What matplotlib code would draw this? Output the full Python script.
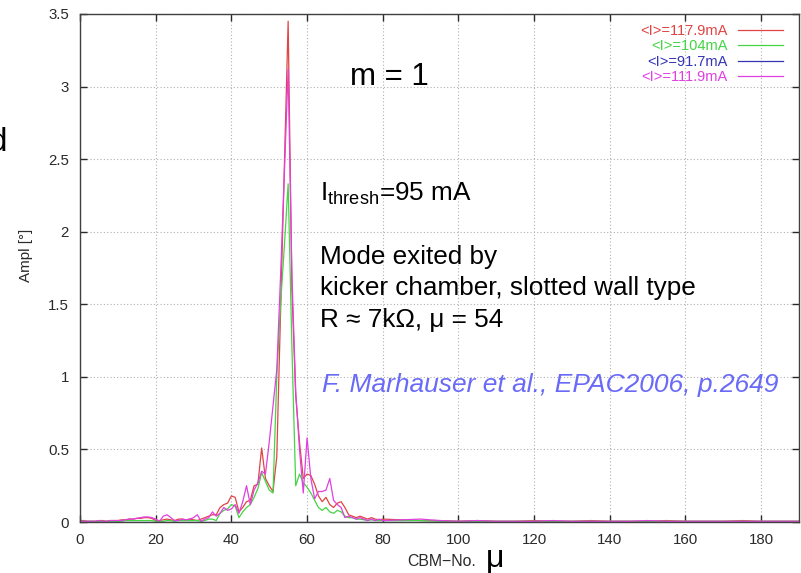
import matplotlib
matplotlib.use("Agg")
import matplotlib.pyplot as plt

plt.rcParams['font.family'] = ['Liberation Sans', 'DejaVu Sans']

# CBM number (bunch mode number)
cbm = list(range(0, 81)) + [85, 90, 95, 100, 105, 110, 115, 120, 125, 130, 135,
                            140, 145, 150, 155, 160, 165, 170, 175, 180, 185, 190]

amp_117_9 = [0.01, 0.01, 0.005, 0.005, 0.005, 0.01, 0.01, 0.005, 0.01, 0.01,
             0.01, 0.015, 0.015, 0.02, 0.02, 0.025, 0.025, 0.03, 0.03, 0.025,
             0.01, 0.01, 0.015, 0.02, 0.015, 0.01, 0.02, 0.02, 0.015, 0.02,
             0.015, 0.01, 0.02, 0.03, 0.04, 0.05, 0.05, 0.10, 0.12, 0.13,
             0.18, 0.17, 0.07, 0.10, 0.14, 0.15, 0.25, 0.26, 0.51, 0.30,
             0.25, 0.21, 0.45, 1.45, 2.45, 3.45, 1.60, 0.87, 0.55, 0.30,
             0.33, 0.32, 0.26, 0.18, 0.14, 0.17, 0.12, 0.10, 0.13, 0.14,
             0.10, 0.05, 0.04, 0.03, 0.04, 0.03, 0.02, 0.03, 0.02, 0.015,
             0.02,
             0.015, 0.01, 0.01, 0.005, 0.01, 0.005, 0.005, 0.01, 0.005, 0.005, 0.01,
             0.005, 0.005, 0.005, 0.01, 0.005, 0.005, 0.005, 0.01, 0.005, 0.005, 0.005]

amp_104 = [0.005, 0.005, 0.005, 0.005, 0.005, 0.005, 0.005, 0.005, 0.005, 0.005,
           0.005, 0.005, 0.01, 0.01, 0.01, 0.01, 0.01, 0.01, 0.01, 0.01,
           0.005, 0.005, 0.005, 0.01, 0.01, 0.005, 0.01, 0.01, 0.01, 0.01,
           0.01, 0.01, 0.005, 0.01, 0.02, 0.02, 0.01, 0.06, 0.08, 0.09,
           0.12, 0.11, 0.03, 0.07, 0.10, 0.12, 0.17, 0.23, 0.34, 0.28,
           0.22, 0.20, 1.00, 1.50, 1.90, 2.33, 1.20, 0.25, 0.33, 0.27,
           0.24, 0.20, 0.15, 0.10, 0.08, 0.10, 0.07, 0.06, 0.08, 0.07,
           0.04, 0.03, 0.03, 0.02, 0.02, 0.015, 0.01, 0.015, 0.01, 0.01,
           0.01,
           0.01, 0.01, 0.005, 0.005, 0.005, 0.005, 0.005, 0.005, 0.005, 0.005, 0.005,
           0.005, 0.005, 0.005, 0.005, 0.005, 0.005, 0.005, 0.005, 0.005, 0.005, 0.005]

amp_91_7 = [0.002] * len(cbm)

amp_111_9 = [0.005, 0.005, 0.005, 0.005, 0.005, 0.01, 0.005, 0.005, 0.01, 0.01,
             0.01, 0.01, 0.015, 0.02, 0.02, 0.025, 0.03, 0.035, 0.035, 0.03,
             0.02, 0.005, 0.04, 0.05, 0.03, 0.01, 0.01, 0.02, 0.015, 0.02,
             0.03, 0.05, 0.005, 0.02, 0.03, 0.07, 0.04, 0.06, 0.10, 0.08,
             0.09, 0.12, 0.06, 0.14, 0.25, 0.12, 0.22, 0.27, 0.35, 0.33,
             0.55, 0.80, 1.05, 1.70, 2.40, 3.12, 1.70, 0.90, 0.50, 0.20,
             0.58, 0.30, 0.16, 0.21, 0.21, 0.22, 0.30, 0.15, 0.12, 0.10,
             0.03, 0.04, 0.03, 0.02, 0.03, 0.02, 0.01, 0.02, 0.01, 0.02,
             0.01,
             0.015, 0.02, 0.01, 0.005, 0.01, 0.005, 0.005, 0.005, 0.01, 0.005, 0.005,
             0.005, 0.005, 0.01, 0.005, 0.005, 0.005, 0.005, 0.005, 0.005, 0.005, 0.005]

labels = ["<I>=117.9mA", "<I>=104mA", "<I>=91.7mA", "<I>=111.9mA"]
colors = ["#e04444", "#44d444", "#3434b4", "#e040e0"]
series = [amp_117_9, amp_104, amp_91_7, amp_111_9]

xticks = [0, 20, 40, 60, 80, 100, 120, 140, 160, 180]
yticks = [0, 0.5, 1, 1.5, 2, 2.5, 3, 3.5]
yticklabels = ["0", "0.5", "1", "1.5", "2", "2.5", "3", "3.5"]

fig = plt.figure(figsize=(8.01, 5.73), dpi=100)
ax = fig.add_axes([0.0999, 0.089, 0.8976, 0.8866])

for y, lab, c in zip(series, labels, colors):
    ax.plot(cbm, y, color=c, lw=0.9, label=lab)

ax.set_xlim(0, 190)
ax.set_ylim(0, 3.5)
ax.set_xticks(xticks)
ax.set_yticks(yticks)
ax.set_yticklabels(yticklabels)
ax.tick_params(direction='in', length=5, width=1, top=True, right=True,
               labelsize=10.8, colors='#2a2a2a', pad=8)
ax.grid(True, linestyle=(0, (1, 2)), color='#b0b0b0', lw=0.8)
for s in ax.spines.values():
    s.set_color('#404040')
    s.set_linewidth(1)

ax.set_ylabel("Ampl [°]", fontsize=11, color='#2a2a2a')
ax.yaxis.set_label_coords(-0.066, 0.525)
ax.set_xlabel("CBM\u2212No.", fontsize=11.4, color='#2a2a2a')
ax.xaxis.set_label_coords(0.503, -0.062)

leg = ax.legend(loc='upper right', bbox_to_anchor=(0.986, 0.992), borderaxespad=0,
                markerfirst=False, frameon=False, labelcolor='linecolor',
                fontsize=10.5, handlelength=3.1, labelspacing=0.1,
                handletextpad=0.7)

fig.text(0.607, 0.0105, "\u03bc", fontsize=23, color='black')
fig.text(-0.014, 0.737, "d", fontsize=24, color='black')

ax.text(0.3755, 0.860, "m = 1", transform=ax.transAxes, fontsize=22.5, color='black')
ax.text(0.334, 0.632, "I$_{\\mathregular{thresh}}$=95 mA", transform=ax.transAxes,
        fontsize=18.8, color='black')
ax.text(0.334, 0.508, "Mode exited by", transform=ax.transAxes, fontsize=18.8, color='black')
ax.text(0.334, 0.447, "kicker chamber, slotted wall type", transform=ax.transAxes,
        fontsize=18.8, color='black')
ax.text(0.334, 0.384, "R \u2248 7k\u03a9, \u03bc = 54", transform=ax.transAxes,
        fontsize=18.8, color='black')
ax.text(0.336, 0.256, "F. Marhauser et al., EPAC2006, p.2649", transform=ax.transAxes,
        fontsize=19, color='#6a6af8', style='italic')

fig.savefig("out.png", dpi=100)
